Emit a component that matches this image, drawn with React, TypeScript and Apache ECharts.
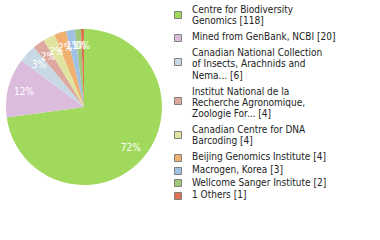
import React, { useEffect, useRef } from "react";
import * as echarts from "echarts";

const categories = [
  "Centre for Biodiversity\nGenomics",
  "Mined from GenBank, NCBI",
  "Canadian National Collection\nof Insects, Arachnids and\nNema...",
  "Institut National de la\nRecherche Agronomique,\nZoologie For...",
  "Canadian Centre for DNA\nBarcoding",
  "Beijing Genomics Institute",
  "Macrogen, Korea",
  "Wellcome Sanger Institute",
  "1 Others",
];
const values = [118, 20, 6, 4, 4, 4, 3, 2, 1];
const colors = [
  "#a0d95c",
  "#dcbcdc",
  "#c8d8e4",
  "#dca8a0",
  "#e0e4a0",
  "#f0b070",
  "#a0c0e4",
  "#a0c878",
  "#e07050",
];

const FONT = "'DejaVu Sans Condensed', 'DejaVu Sans', sans-serif";

export default function App() {
  const ref = useRef<HTMLDivElement>(null);
  useEffect(() => {
    if (!ref.current) return;
    const chart = echarts.init(ref.current, undefined, { renderer: "svg" });
    const total = values.reduce((a, b) => a + b, 0);
    const data = categories.map((c, i) => ({
      name: c,
      value: values[i],
      itemStyle: { color: colors[i] },
    }));

    // legend layout
    const LH = 11.3;
    const graphics: any[] = [];
    let capTop = 6;
    categories.forEach((c, i) => {
      const lines = c.split("\n").length;
      const markerC = capTop + 4.2 * lines;
      graphics.push({
        type: "rect",
        shape: { x: 174.5, y: Math.round(markerC - 3.5) + 0.5, width: 7, height: 7 },
        style: { fill: colors[i], stroke: "#808080", lineWidth: 1 },
      });
      graphics.push({
        type: "text",
        x: 192,
        y: capTop - 2.2,
        style: {
          text: `${c} [${values[i]}]`,
          font: `10px ${FONT}`,
          fill: "#222",
          lineHeight: LH,
          verticalAlign: "top",
        },
      });
      if (i < categories.length - 1) {
        const nextLines = categories[i + 1].split("\n").length;
        const gap = lines > 1 || nextLines > 1 ? 4.6 : 1.4;
        capTop += lines * LH + gap;
      }
    });

    chart.setOption({
      animation: false,
      graphic: graphics,
      series: [
        {
          type: "pie",
          center: [84, 107],
          radius: [0, 78],
          startAngle: 90,
          clockwise: true,
          silent: true,
          label: { show: false },
          labelLine: { show: false },
          itemStyle: { borderWidth: 0 },
          data,
        },
        {
          type: "pie",
          center: [84, 107],
          radius: [0, 118],
          startAngle: 90,
          clockwise: true,
          silent: true,
          itemStyle: { color: "transparent", borderWidth: 0 },
          labelLayout: { hideOverlap: false },
          label: {
            show: true,
            position: "inside",
            color: "#fff",
            fontSize: 10,
            fontFamily: FONT,
            formatter: (p: any) => Math.floor((p.value / total) * 100) + "%",
          },
          labelLine: { show: false },
          data: data.map((d) => ({ ...d, itemStyle: { color: "transparent" } })),
        },
      ],
    });
    return () => chart.dispose();
  }, []);
  return <div ref={ref} style={{ width: 380, height: 240, position: "absolute", left: 0, top: 0 }} />;
}
